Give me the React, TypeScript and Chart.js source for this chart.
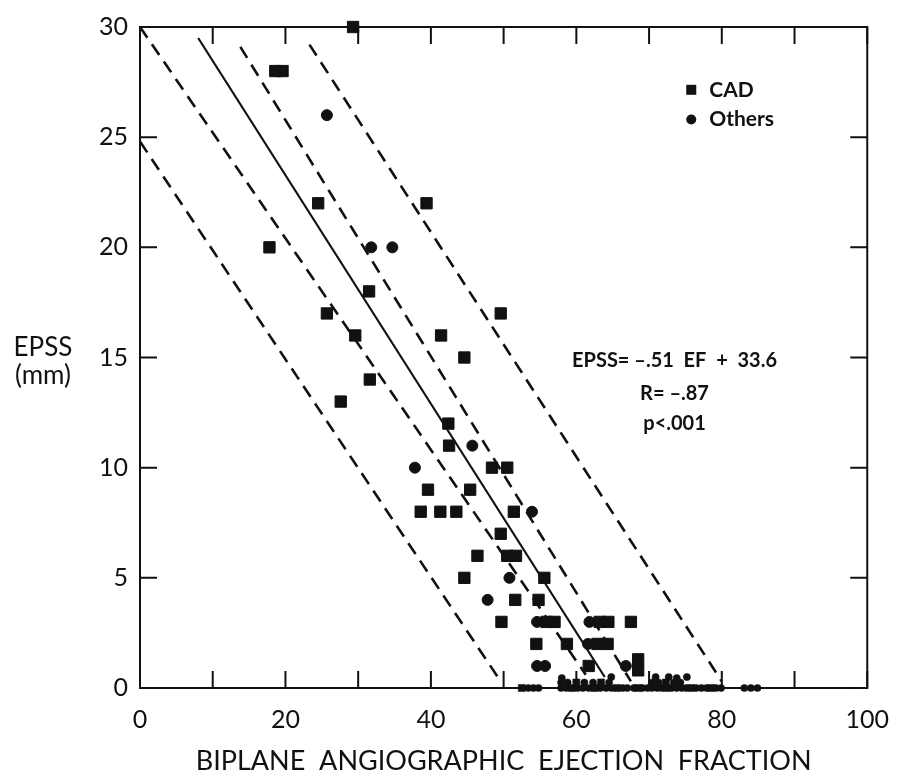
import React, { useEffect, useRef } from "react";
import { Chart, registerables } from "chart.js";

Chart.register(...registerables);

// ---- data ----
const xTickLabels = [0, 20, 40, 60, 80, 100];
const yTickLabels = [0, 5, 10, 15, 20, 25, 30];

// CAD patients (squares): [EF, EPSS]
const cadPoints: [number, number][] = [
  [29.3, 30], [18.6, 28], [19.6, 28], [24.5, 22], [39.4, 22], [17.8, 20],
  [31.5, 18], [25.7, 17], [49.6, 17], [41.4, 16], [29.6, 16], [44.6, 15],
  [31.6, 14], [27.6, 13], [42.4, 12], [42.5, 11], [48.4, 10], [50.5, 10],
  [39.6, 9], [45.4, 9], [38.6, 8], [41.3, 8], [43.5, 8], [51.4, 8],
  [49.6, 7], [46.4, 6], [50.5, 6], [51.7, 6], [44.6, 5], [55.6, 5],
  [51.6, 4], [54.8, 4], [49.7, 3], [55.9, 3], [57.0, 3], [63.2, 3],
  [64.4, 3], [67.5, 3], [54.5, 2], [58.7, 2], [62.9, 2], [64.3, 2],
  [61.7, 1], [68.5, 1.3], [68.5, 0.8],
];

// Other patients (circles): [EF, EPSS]
const othersPoints: [number, number][] = [
  [25.7, 26], [31.8, 20], [34.7, 20], [45.7, 11], [37.8, 10], [53.9, 8],
  [50.8, 5], [47.8, 4], [54.6, 3], [61.8, 3], [61.6, 2], [54.6, 1],
  [55.7, 1], [66.8, 1],
];

// small marks crowded along the baseline: [EF, EPSS]
const cadBasePoints: [number, number][] = [
  [52.5, 0], [59.4, 0], [62.5, 0], [65.6, 0], [68.5, 0], [72.4, 0],
  [75.8, 0], [78.5, 0], [60.0, 0.25], [63.4, 0.25], [72.3, 0.25],
];
const othersBasePoints: [number, number][] = [
  [53.4, 0], [54.1, 0], [54.8, 0], [57.9, 0], [58.6, 0], [60.2, 0],
  [60.9, 0], [61.7, 0], [63.3, 0], [64.1, 0], [64.8, 0], [66.4, 0],
  [67.0, 0], [67.9, 0], [69.1, 0], [69.8, 0], [70.4, 0], [71.1, 0],
  [71.7, 0], [73.1, 0], [73.8, 0], [74.5, 0], [75.1, 0], [76.5, 0],
  [77.2, 0], [77.9, 0], [79.2, 0], [79.9, 0], [83.1, 0], [84.0, 0],
  [84.9, 0], [57.9, 0.25], [58.8, 0.25], [61.1, 0.25], [62.3, 0.25],
  [64.5, 0.25], [70.4, 0.25], [71.3, 0.25], [73.4, 0.25], [74.3, 0.25],
  [58.0, 0.45], [64.8, 0.5], [70.9, 0.5], [72.7, 0.5], [73.8, 0.45],
  [75.2, 0.5],
];

// regression line and confidence bands: two end points each
const regressionLine: [number, number][] = [[8, 29.5], [63.9, 0.5]];
const innerLowLine: [number, number][] = [[0, 30], [61.3, 0.6]];
const innerHighLine: [number, number][] = [[13.8, 29.1], [67.5, 0.3]];
const outerLowLine: [number, number][] = [[0, 24.8], [49.6, 0.3]];
const outerHighLine: [number, number][] = [[23.3, 29.2], [80, 0.3]];

const seriesNames = ["CAD", "Others"];
const equationLines = ["EPSS= –.51  EF  +  33.6", "R= –.87", "p<.001"];
const xTitle = "BIPLANE  ANGIOGRAPHIC  EJECTION  FRACTION";
const yTitle = ["EPSS", "(mm)"];

const INK = "#111111";
const FONT = "Lato, 'Open Sans', sans-serif";

const toXY = (pts: [number, number][]) => pts.map(([x, y]) => ({ x, y }));

const framePlugin = {
  id: "framePlugin",
  beforeDatasetsDraw(chart: any) {
    const { ctx, chartArea: a, scales } = chart;
    ctx.save();
    ctx.strokeStyle = INK;
    ctx.lineWidth = 2;
    ctx.strokeRect(a.left, a.top, a.right - a.left, a.bottom - a.top);
    const tl = 17;
    ctx.beginPath();
    scales.x.ticks.forEach((t: any) => {
      const px = scales.x.getPixelForValue(t.value);
      ctx.moveTo(px, a.bottom);
      ctx.lineTo(px, a.bottom - tl);
      ctx.moveTo(px, a.top);
      ctx.lineTo(px, a.top + tl);
    });
    scales.y.ticks.forEach((t: any) => {
      const py = scales.y.getPixelForValue(t.value);
      ctx.moveTo(a.left, py);
      ctx.lineTo(a.left + tl, py);
      ctx.moveTo(a.right, py);
      ctx.lineTo(a.right - tl, py);
    });
    ctx.stroke();
    ctx.restore();
  },
  afterDraw(chart: any) {
    const { ctx, scales } = chart;
    const sx = scales.x, sy = scales.y;
    ctx.save();
    ctx.fillStyle = INK;

    // legend
    const lx = sx.getPixelForValue(75.8);
    const ly1 = sy.getPixelForValue(27.15);
    const ly2 = sy.getPixelForValue(25.8);
    ctx.fillRect(lx - 5, ly1 - 5, 10, 10);
    ctx.beginPath();
    ctx.arc(lx, ly2, 5, 0, Math.PI * 2);
    ctx.fill();
    ctx.font = `bold 21px ${FONT}`;
    ctx.textAlign = "left";
    ctx.textBaseline = "middle";
    ctx.fillText(seriesNames[0], lx + 18, ly1);
    ctx.fillText(seriesNames[1], lx + 18, ly2);

    // equation
    ctx.font = `bold 20px ${FONT}`;
    ctx.textAlign = "center";
    const ex = sx.getPixelForValue(73.5);
    [14.85, 13.35, 12.0].forEach((v, i) => {
      ctx.fillText(equationLines[i], ex, sy.getPixelForValue(v));
    });

    // y title
    ctx.font = `26px ${FONT}`;
    ctx.textAlign = "center";
    ctx.fillText(yTitle[0], 43, sy.getPixelForValue(15.45));
    ctx.fillText(yTitle[1], 43, sy.getPixelForValue(14.2));
    ctx.restore();
  },
};

export default function App() {
  const ref = useRef<HTMLCanvasElement | null>(null);
  useEffect(() => {
    if (!ref.current) return;
    const lineDs = (pts: [number, number][], dashed: boolean) => ({
      type: "scatter" as const,
      data: toXY(pts),
      showLine: true,
      borderColor: INK,
      borderWidth: dashed ? 2.6 : 2.2,
      borderDash: dashed ? [13, 8] : [],
      pointRadius: 0,
      fill: false,
      clip: false as any,
    });
    const chart = new Chart(ref.current, {
      type: "scatter",
      data: {
        datasets: [
          lineDs(regressionLine, false),
          lineDs(innerLowLine, true),
          lineDs(innerHighLine, true),
          lineDs(outerLowLine, true),
          lineDs(outerHighLine, true),
          {
            label: seriesNames[0],
            data: toXY(cadPoints),
            pointStyle: "rect",
            pointRadius: 8,
            backgroundColor: INK,
            borderColor: INK,
            borderWidth: 1,
            clip: false as any,
          },
          {
            label: seriesNames[1],
            data: toXY(othersPoints),
            pointStyle: "circle",
            pointRadius: 5.5,
            backgroundColor: INK,
            borderColor: INK,
            borderWidth: 1,
            clip: false as any,
          },
          {
            label: seriesNames[0] + " (baseline)",
            data: toXY(cadBasePoints),
            pointStyle: "rect",
            pointRadius: 5,
            backgroundColor: INK,
            borderColor: INK,
            borderWidth: 0.5,
            clip: false as any,
          },
          {
            label: seriesNames[1] + " (baseline)",
            data: toXY(othersBasePoints),
            pointStyle: "circle",
            pointRadius: 3.6,
            backgroundColor: INK,
            borderColor: INK,
            borderWidth: 0.5,
            clip: false as any,
          },
        ] as any,
      },
      options: {
        responsive: false,
        animation: false,
        layout: { padding: { top: 25, right: 30, left: 0, bottom: 0 } },
        plugins: {
          legend: { display: false },
          tooltip: { enabled: false },
        },
        scales: {
          x: {
            type: "linear",
            min: 0,
            max: 100,
            grid: { display: false, drawTicks: false },
            border: { display: false },
            ticks: {
              stepSize: 10,
              autoSkip: false,
              maxRotation: 0,
              padding: 17,
              color: INK,
              font: { family: FONT, size: 25 },
              callback: (v: any) => (xTickLabels.includes(Number(v)) ? String(v) : ""),
            },
            title: {
              display: true,
              text: xTitle,
              color: INK,
              font: { family: FONT, size: 27 },
              padding: { top: 0, bottom: -3 },
            },
            afterFit: (scale: any) => {
              scale.height = 86;
            },
          },
          y: {
            type: "linear",
            min: 0,
            max: 30,
            grid: { display: false, drawTicks: false },
            border: { display: false },
            ticks: {
              stepSize: 5,
              padding: 12,
              color: INK,
              font: { family: FONT, size: 25 },
              callback: (v: any) => (yTickLabels.includes(Number(v)) ? String(v) : ""),
            },
            afterFit: (scale: any) => {
              scale.width = 140;
            },
          },
        },
      },
      plugins: [framePlugin],
    });
    return () => chart.destroy();
  }, []);

  return (
    <div style={{ position: "absolute", left: 0, top: 0, width: 906, height: 774, background: "#fff" }}>
      <canvas ref={ref} width={906} height={774} style={{ display: "block" }} />
    </div>
  );
}
